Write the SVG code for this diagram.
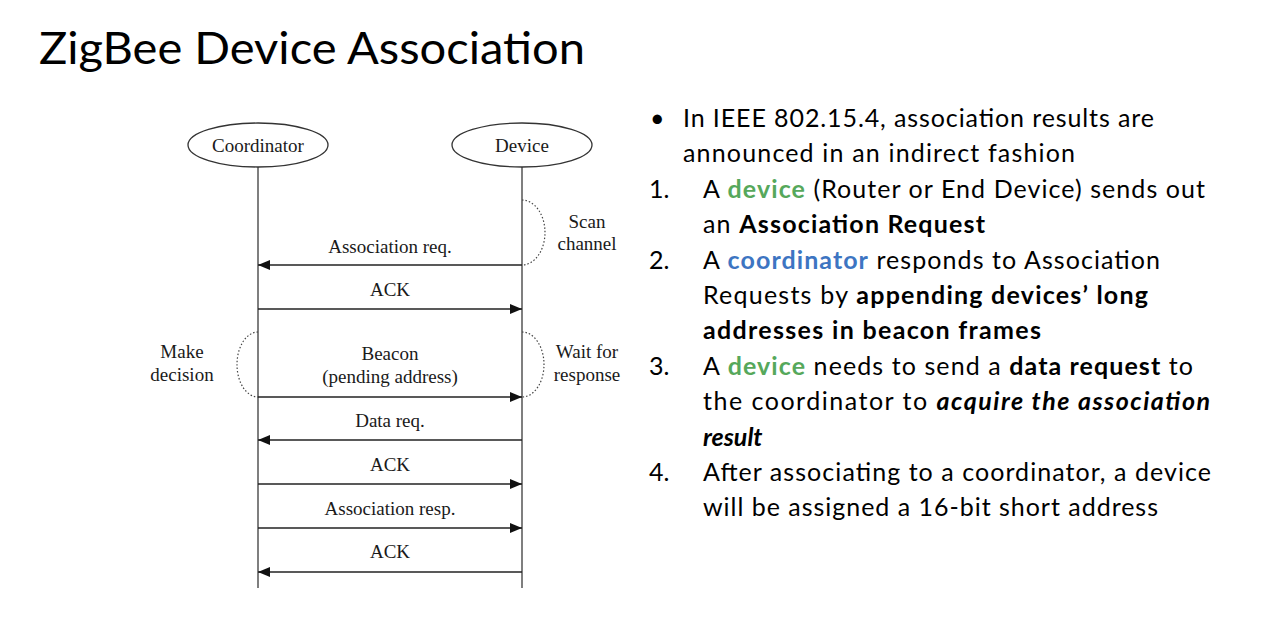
<svg xmlns="http://www.w3.org/2000/svg" width="1282" height="636" viewBox="0 0 1282 636">
<style>
.title{font-family:Lato,"Open Sans","Liberation Sans",sans-serif;font-weight:400;font-size:44px;fill:#000}
.body{font-family:Lato,"Open Sans","Liberation Sans",sans-serif;font-size:25px;fill:#000}
.b{font-weight:bold}
.bi{font-weight:bold;font-style:italic}
.green{fill:#56a85b;font-weight:bold}
.blue{fill:#3d75c2;font-weight:bold}
.serif{font-family:"Liberation Serif","Times New Roman",serif;font-size:19px;fill:#1a1a1a;text-anchor:middle}
.actor{fill:#fff;stroke:#333;stroke-width:1.3}
.life{stroke:#555;stroke-width:1.5;fill:none}
.msg{stroke:#222;stroke-width:1.3;fill:none}
.dot{stroke:#444;stroke-width:1.2;stroke-dasharray:1.5 2;fill:none}
</style>
<defs>
<marker id="ah" viewBox="0 0 12 10" refX="12" refY="5" markerWidth="13" markerHeight="10" markerUnits="userSpaceOnUse" orient="auto">
<path d="M0,0 L12,5 L0,10 Z" fill="#111"/>
</marker>
</defs>
<rect width="1282" height="636" fill="#fff"/>
<text class="title" x="39" y="64" textLength="546" lengthAdjust="spacingAndGlyphs">ZigBee Device Association</text>

<g id="coordinator">
<line class="life" x1="258" y1="167" x2="258" y2="588"/>
<ellipse class="actor" cx="258" cy="145" rx="70" ry="22"/>
<text class="serif" x="258" y="152">Coordinator</text>
</g>
<g id="device">
<line class="life" x1="522" y1="167" x2="522" y2="588"/>
<ellipse class="actor" cx="522" cy="145" rx="70" ry="22"/>
<text class="serif" x="522" y="152">Device</text>
</g>
<g id="scan-channel">
<path class="dot" d="M522,200 A23,32.5 0 0 1 522,265"/>
<text class="serif" x="587" y="228">Scan</text>
<text class="serif" x="587" y="250">channel</text>
</g>
<g id="make-decision">
<path class="dot" d="M258,332 A21,32.5 0 0 0 258,397"/>
<text class="serif" x="182" y="358">Make</text>
<text class="serif" x="182" y="381">decision</text>
</g>
<g id="wait-for-response">
<path class="dot" d="M522,332 A22,32.5 0 0 1 522,397"/>
<text class="serif" x="587" y="358">Wait for</text>
<text class="serif" x="587" y="381">response</text>
</g>

<g id="connectors">
<line class="msg" x1="522" y1="265" x2="258" y2="265" marker-end="url(#ah)"/>
<text class="serif" x="390" y="253">Association req.</text>
<line class="msg" x1="258" y1="309" x2="522" y2="309" marker-end="url(#ah)"/>
<text class="serif" x="390" y="296">ACK</text>
<line class="msg" x1="258" y1="397" x2="522" y2="397" marker-end="url(#ah)"/>
<text class="serif" x="390" y="360">Beacon</text>
<text class="serif" x="390" y="383">(pending address)</text>
<line class="msg" x1="522" y1="440" x2="258" y2="440" marker-end="url(#ah)"/>
<text class="serif" x="390" y="427">Data req.</text>
<line class="msg" x1="258" y1="484" x2="522" y2="484" marker-end="url(#ah)"/>
<text class="serif" x="390" y="471">ACK</text>
<line class="msg" x1="258" y1="528" x2="522" y2="528" marker-end="url(#ah)"/>
<text class="serif" x="390" y="515">Association resp.</text>
<line class="msg" x1="522" y1="572" x2="258" y2="572" marker-end="url(#ah)"/>
<text class="serif" x="390" y="558">ACK</text>
</g>

<g id="bullets" class="body">
<text x="650" y="127">•</text>
<text x="683" y="127" textLength="471" lengthAdjust="spacing">In IEEE 802.15.4, association results are</text>
<text x="683" y="162" textLength="392" lengthAdjust="spacing">announced in an indirect fashion</text>
<text x="649" y="198">1.</text>
<text x="703" y="198" textLength="502" lengthAdjust="spacing">A <tspan class="green">device</tspan> (Router or End Device) sends out</text>
<text x="703" y="233" textLength="282" lengthAdjust="spacing">an <tspan class="b">Association Request</tspan></text>
<text x="649" y="269">2.</text>
<text x="703" y="269" textLength="457" lengthAdjust="spacing">A <tspan class="blue">coordinator</tspan> responds to Association</text>
<text x="703" y="304" textLength="445" lengthAdjust="spacing">Requests by <tspan class="b">appending devices’ long</tspan></text>
<text x="703" y="339" textLength="338" lengthAdjust="spacing" class="b">addresses in beacon frames</text>
<text x="649" y="375">3.</text>
<text x="703" y="375" textLength="490" lengthAdjust="spacing">A <tspan class="green">device</tspan> needs to send a <tspan class="b">data request</tspan> to</text>
<text x="703" y="410" textLength="507" lengthAdjust="spacing">the coordinator to <tspan class="bi">acquire the association</tspan></text>
<text x="703" y="446" class="bi">result</text>
<text x="649" y="481">4.</text>
<text x="703" y="481" textLength="508" lengthAdjust="spacing">After associating to a coordinator, a device</text>
<text x="703" y="516" textLength="455" lengthAdjust="spacing">will be assigned a 16-bit short address</text>
</g>
</svg>
